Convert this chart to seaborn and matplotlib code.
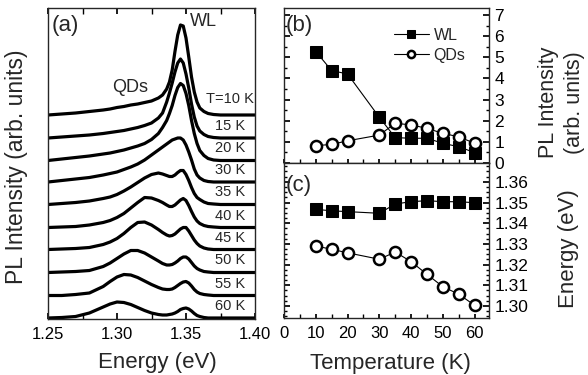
import matplotlib
matplotlib.use("Agg")
import matplotlib.pyplot as plt
from matplotlib.ticker import MultipleLocator
import seaborn as sns
import pandas as pd

# ---- data ----
energy = [1.250, 1.260, 1.270, 1.280, 1.290, 1.295, 1.300, 1.305, 1.310, 1.315,
          1.320, 1.325, 1.330, 1.333, 1.336, 1.338, 1.340, 1.342, 1.344, 1.346,
          1.348, 1.350, 1.352, 1.354, 1.356, 1.358, 1.360, 1.363, 1.366, 1.370,
          1.375, 1.380, 1.390, 1.400]

spec_labels = ["T=10 K", "15 K", "20 K", "30 K", "35 K", "40 K", "45 K", "50 K", "55 K", "60 K"]
# vertical offset of each spectrum (arb. units)
spec_offsets = [204, 181, 158.5, 137, 114.5, 91.5, 69.5, 46.5, 23.5, 1]

pl_10K = [0, 1, 2, 3.5, 5, 6, 7.5, 8.5, 10, 11, 12.5, 14, 17, 20, 26, 33, 45, 63.5, 80, 90,
          89, 77, 58, 38, 23, 13, 7, 3.5, 1.5, 0.5, 0, 0, 0, 0]
pl_15K = [0, 1, 2, 3, 4.5, 5.5, 6.5, 7.5, 9, 10.5, 12.5, 15, 20, 25, 36, 45, 55, 66, 75, 79,
          75, 64, 50, 34, 21, 12, 7, 3.5, 1.5, 0.5, 0, 0, 0, 0]
pl_20K = [0, 1.5, 3, 4.5, 6.5, 7.5, 9, 10.5, 12.5, 14.5, 17, 21, 27, 33, 40, 47, 55, 65, 73, 77,
          75, 67, 55, 40, 27, 17, 10, 5, 2, 0.5, 0, 0, 0, 0]
pl_30K = [0, 1.5, 3, 4.5, 7, 8.5, 10, 12.5, 15, 18, 22, 27, 32, 35, 38, 40, 42, 43, 44, 44,
          42, 37, 30, 22, 13, 7, 4, 1.5, 0.5, 0, 0, 0, 0, 0]
pl_35K = [0, 1, 2, 3.5, 6, 7.5, 10, 13.5, 17.5, 22, 26.5, 30, 31.5, 30.5, 29, 28, 28, 29.5, 32, 34,
          34, 30, 24, 17, 11, 7, 5, 2.5, 1, 0.5, 0, 0, 0, 0]
pl_40K = [0, 0.5, 1, 2.5, 5, 7, 10, 14, 19.5, 25, 30, 29.5, 27, 25, 22.5, 21, 21, 22.5, 25, 27.5,
          29, 27, 22, 16, 10.5, 6.5, 4, 2, 1, 0.5, 0, 0, 0, 0]
pl_45K = [0, 0.5, 1, 2, 5, 7.5, 11, 16, 22, 27, 27.5, 24.5, 20, 17, 14.5, 13.5, 14, 15.5, 18, 20.5,
          22, 22, 18.5, 14, 9.5, 6, 3.5, 1.5, 0.5, 0, 0, 0, 0, 0]
pl_50K = [0, 0.5, 1, 2, 6, 9.5, 14, 18.5, 22, 22, 19.5, 15.5, 11.5, 9, 7.5, 7.5, 8, 9.5, 11.5, 14,
          15.5, 15.5, 13.5, 10, 6.5, 4, 2.5, 1, 0.5, 0, 0, 0, 0, 0]
pl_55K = [0, 0, 1, 2.5, 9, 14, 18.5, 21, 20.5, 18, 14.5, 11, 8, 6.5, 6, 6, 6.5, 8, 10, 12,
          13.5, 14, 12.5, 9.5, 6, 3.5, 2, 1, 0.5, 0, 0, 0, 0, 0]
pl_60K = [0, 0.5, 1.5, 5, 11, 14, 16, 15.5, 13.5, 10.5, 7.5, 5, 3.5, 3, 3, 3.5, 4, 5, 6.5, 8.5,
          9.5, 10, 9, 7, 4.5, 2.5, 1.5, 0.5, 0, 0, 0, 0, 0, 0]
spectra = [pl_10K, pl_15K, pl_20K, pl_30K, pl_35K, pl_40K, pl_45K, pl_50K, pl_55K, pl_60K]

temps = [10, 15, 20, 30, 35, 40, 45, 50, 55, 60]
wl_intensity = [5.27, 4.37, 4.21, 2.16, 1.20, 1.17, 1.17, 0.93, 0.77, 0.49]
qd_intensity = [0.82, 0.88, 1.05, 1.32, 1.88, 1.80, 1.64, 1.40, 1.24, 0.93]
wl_energy = [1.3467, 1.3460, 1.3456, 1.3448, 1.3493, 1.3504, 1.3509, 1.3504, 1.3504, 1.3499]
qd_energy = [1.3290, 1.3274, 1.3257, 1.3226, 1.3261, 1.3214, 1.3153, 1.3093, 1.3057, 1.3003]

sns.set_theme(style="ticks")
plt.rcParams['font.family'] = ['Liberation Sans', 'DejaVu Sans']
plt.rcParams['axes.linewidth'] = 1.0
plt.rcParams['xtick.color'] = 'black'
plt.rcParams['ytick.color'] = 'black'

fig = plt.figure(figsize=(5.88, 3.75), dpi=100)
ax_a = fig.add_axes([48/588, 56/375, 207/588, 311/375])
ax_b = fig.add_axes([284/588, 212/375, 205/588, 155/375])
ax_c = fig.add_axes([284/588, 57/375, 205/588, 155/375])

# ---- (a) spectra ----
rows = []
for lab, off, spec in zip(spec_labels, spec_offsets, spectra):
    for e, v in zip(energy, spec):
        rows.append({"E": e, "I": v + off, "T": lab})
df = pd.DataFrame(rows)
sns.lineplot(data=df, x="E", y="I", units="T", estimator=None, color="black",
             linewidth=2.3, ax=ax_a, legend=False)

for i, (lab, off) in enumerate(zip(spec_labels, spec_offsets)):
    if i == 0:
        ax_a.text(1.3993, off + 16, lab, ha="right", va="center", fontsize=10.5)
    else:
        ax_a.text(1.3928, off + 12, lab, ha="right", va="center", fontsize=10.5)

ax_a.set_xlim(1.25, 1.40)
ax_a.set_ylim(0, 311)
ax_a.set_yticks([])
ax_a.xaxis.set_minor_locator(MultipleLocator(0.025))
ax_a.set_xticks([1.25, 1.30, 1.35, 1.40])
ax_a.set_xticklabels(["1.25", "1.30", "1.35", "1.40"])
ax_a.tick_params(axis="x", which="both", direction="in", top=True, length=4,
                 labelsize=12, pad=6)
ax_a.set_xlabel("Energy (eV)", fontsize=16)
ax_a.set_ylabel("PL Intensity (arb. units)", fontsize=16.5)
ax_a.xaxis.set_label_coords(0.53, -0.106)
ax_a.yaxis.set_label_coords(-0.097, 0.49)
ax_a.text(0.019, 0.945, "(a)", transform=ax_a.transAxes, fontsize=16, va="center")
ax_a.text(1.353, 297, "WL", fontsize=13, va="center")
ax_a.text(1.2965, 231, "QDs", fontsize=13, va="center")

# ---- (b) integrated intensity ----
sns.lineplot(x=temps, y=wl_intensity, color="black", linewidth=0.8, marker="s",
             markersize=8, markerfacecolor="black", markeredgecolor="black",
             ax=ax_b, label="WL")
sns.lineplot(x=temps, y=qd_intensity, color="black", linewidth=0.8, marker="o",
             markersize=8, markerfacecolor="white", markeredgecolor="black",
             markeredgewidth=1.8, ax=ax_b, label="QDs")
ax_b.set_ylim(0, 7.33)
ax_b.yaxis.set_major_locator(MultipleLocator(1))
ax_b.yaxis.set_minor_locator(MultipleLocator(0.5))
ax_b.legend(loc="center left", bbox_to_anchor=(0.535, 0.76), frameon=False,
            fontsize=11.5, markerscale=0.65, handlelength=2.2, handletextpad=0.3,
            labelspacing=0.3, borderpad=0, borderaxespad=0)
ax_b.text(0.01, 0.89, "(b)", transform=ax_b.transAxes, fontsize=16, va="center")
ax_b.set_ylabel("PL Intensity\n(arb. units)", fontsize=15.5, linespacing=1.3)

# ---- (c) peak energy ----
sns.lineplot(x=temps, y=wl_energy, color="black", linewidth=0.8, marker="s",
             markersize=8, markerfacecolor="black", markeredgecolor="black",
             ax=ax_c, legend=False)
sns.lineplot(x=temps, y=qd_energy, color="black", linewidth=0.8, marker="o",
             markersize=8, markerfacecolor="white", markeredgecolor="black",
             markeredgewidth=1.8, ax=ax_c, legend=False)
ax_c.set_ylim(1.2942, 1.3691)
ax_c.yaxis.set_minor_locator(MultipleLocator(0.0025))
ax_c.set_yticks([1.30, 1.31, 1.32, 1.33, 1.34, 1.35, 1.36])
ax_c.set_yticklabels(["1.30", "1.31", "1.32", "1.33", "1.34", "1.35", "1.36"])
ax_c.text(0.01, 0.858, "(c)", transform=ax_c.transAxes, fontsize=16, va="center")
ax_c.set_ylabel("Energy (eV)", fontsize=16)
ax_c.set_xlabel("Temperature (K)", fontsize=16)

for ax in (ax_b, ax_c):
    ax.set_xlim(0, 64.5)
    ax.xaxis.set_major_locator(MultipleLocator(10))
    ax.xaxis.set_minor_locator(MultipleLocator(5))
    ax.yaxis.set_label_position("right")
    ax.tick_params(axis="y", which="both", direction="in", left=True, right=True,
                   labelleft=False, labelright=True, labelsize=12.5, pad=4)
    ax.tick_params(axis="y", which="major", length=4)
    ax.tick_params(axis="y", which="minor", length=2)
    ax.tick_params(axis="x", which="both", direction="in", length=3, top=False)
ax_b.tick_params(axis="x", labelbottom=False)
ax_c.tick_params(axis="x", labelsize=12, pad=6)
ax_b.yaxis.set_label_coords(1.239, 0.39)
ax_c.yaxis.set_label_coords(1.337, 0.45)
ax_c.xaxis.set_label_coords(0.52, -0.226)

fig.savefig("out.png", dpi=100)
